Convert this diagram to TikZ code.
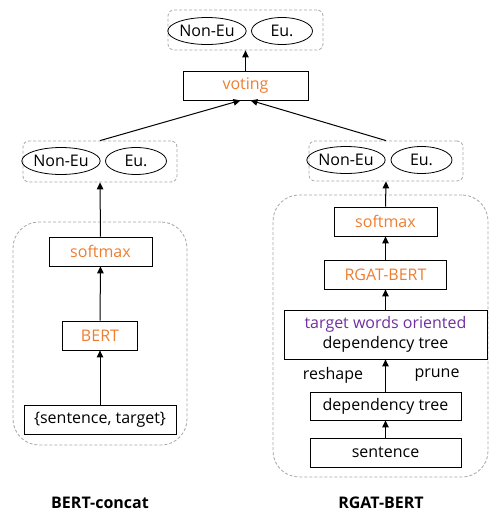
\documentclass[tikz,border=0pt]{standalone}
\usepackage{fontspec}
\setmainfont{Open Sans}
\usetikzlibrary{arrows.meta,shapes.geometric}
\definecolor{offorange}{RGB}{237,125,49}
\definecolor{offpurple}{RGB}{112,48,160}
\definecolor{dashgray}{RGB}{166,166,166}
\begin{document}
\begin{tikzpicture}[x=1pt,y=-1pt,
  every node/.style={font=\fontsize{16}{19.5}\selectfont, inner sep=0pt},
  box/.style={draw=black, line width=0.8pt, rectangle, minimum height=29pt},
  cls/.style={draw=black, line width=0.8pt, ellipse, minimum width=61pt, minimum height=27pt},
  grp/.style={draw=dashgray, dashed, dash pattern=on 3pt off 2pt, line width=0.8pt, rectangle, rounded corners=6pt},
  biggrp/.style={draw=dashgray, dashed, dash pattern=on 3pt off 2pt, line width=0.8pt, rectangle, rounded corners=26pt},
  arr/.style={-{Triangle[length=7pt,width=6.5pt]}, line width=1pt},
  ttl/.style={font=\fontsize{16}{19}\selectfont\bfseries}]
\useasboundingbox (0,0) rectangle (490,512);
% top
\node[grp, minimum width=155pt, minimum height=40pt] (topg) at (245.5,30) {};
\node[cls] (topn) at (207,31) {Non-Eu};
\node[cls] (tope) at (282,31) {Eu.};
\node[box, minimum width=125pt, text=offorange] (vote) at (245.5,85.5) {voting};
% left small group
\node[grp, minimum width=154pt, minimum height=41pt] (lg) at (100,161.5) {};
\node[cls] (ln) at (61,161) {Non-Eu};
\node[cls] (le) at (136,161) {Eu.};
% right small group
\node[grp, minimum width=154pt, minimum height=40pt] (rg) at (386,161) {};
\node[cls] (rn) at (346,160) {Non-Eu};
\node[cls] (re) at (421.5,160) {Eu.};
% left big
\node[biggrp, minimum width=174pt, minimum height=223pt] (lbig) at (100,333.5) {};
\node[box, minimum width=103pt, text=offorange] (lsoft) at (100.5,251.5) {softmax};
\node[box, minimum width=75pt, text=offorange] (lbert) at (100,335.5) {BERT};
\node[box, minimum width=152pt] (lin) at (100,419.5) {\{sentence, target\}};
% right big
\node[biggrp, minimum width=215pt, minimum height=282pt] (rbig) at (380.5,336) {};
\node[box, minimum width=103pt, text=offorange] (rsoft) at (385.5,221.5) {softmax};
\node[box, minimum width=122pt, text=offorange] (rgat) at (385.5,274.5) {RGAT-BERT};
\node[box, minimum width=203pt, minimum height=49pt, align=center] (twt) at (385.5,334.5) {\textcolor{offpurple}{target words oriented}\\dependency tree};
\node[box, minimum width=151pt, minimum height=28pt] (dep) at (385.5,406) {dependency tree};
\node[box, minimum width=151pt] (sent) at (385.5,452.5) {sentence};
\node (resh) at (333,375) {reshape};
\node (prun) at (437,375) {prune};
% titles
\node[ttl] (t1) at (100,503) {BERT-concat};
\node[ttl] (t2) at (381,503) {RGAT-BERT};
% arrows
\draw[arr] (vote.north) -- (topg.south);
\draw[arr] (lg.north) -- ([xshift=-5pt]vote.south);
\draw[arr] (rg.north) -- ([xshift=5pt]vote.south);
\draw[arr] (lsoft.north) -- (lg.south);
\draw[arr] (lbert.north) -- (lsoft.south);
\draw[arr] (lin.north) -- (lbert.south);
\draw[arr] (rsoft.north) -- (rg.south);
\draw[arr] (rgat.north) -- (rsoft.south);
\draw[arr] (twt.north) -- (rgat.south);
\draw[arr] (dep.north) -- (twt.south);
\draw[arr] (sent.north) -- (dep.south);
\end{tikzpicture}
\end{document}
